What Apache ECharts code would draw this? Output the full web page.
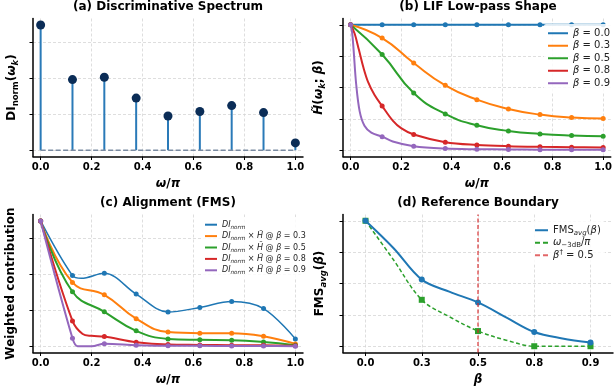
<!DOCTYPE html>
<html><head><meta charset="utf-8">
<script src="https://cdn.jsdelivr.net/npm/echarts@6/dist/echarts.min.js"></script>
<style>html,body{margin:0;padding:0;background:#fff}#c{width:615px;height:392px}</style>
</head><body><div id="c"></div>
<script>
const FONT = 'DejaVu Sans';
const C = ['#1f77b4', '#ff7f0e', '#2ca02c', '#d62728', '#9467bd'];
const GRIDC = '#d6d6d6';

// ---- shared frequency grid ----
const omega = [0, 0.125, 0.25, 0.375, 0.5, 0.625, 0.75, 0.875, 1.0];
const omegaTicks = [0, 0.2, 0.4, 0.6, 0.8, 1.0];
const diTicks = [0, 0.2, 0.4, 0.6];
const unitTicks = [0, 0.25, 0.5, 0.75, 1.0];

// ---- (a) discriminative spectrum ----
const diNorm = [0.699, 0.394, 0.407, 0.291, 0.191, 0.216, 0.249, 0.210, 0.041];

// ---- (b) LIF low-pass shape ----
const betaNames = ['0.0', '0.3', '0.5', '0.8', '0.9'];
const h00 = [1, 1, 1, 1, 1, 1, 1, 1, 1];
const h03 = [1, 0.894, 0.695, 0.517, 0.403, 0.329, 0.284, 0.260, 0.252];
const h05 = [1, 0.763, 0.456, 0.289, 0.199, 0.154, 0.130, 0.117, 0.111];
const h08 = [1, 0.352, 0.125, 0.064, 0.042, 0.032, 0.027, 0.024, 0.021];
const h09 = [1, 0.108, 0.032, 0.013, 0.008, 0.006, 0.004, 0.003, 0.003];
// readings of the drawn curves between the markers
const h08Between = [[0.016, 0.93], [0.033, 0.8], [0.05, 0.665], [0.07, 0.54], [0.095, 0.44], [0.167, 0.236], [0.2, 0.176]];
const h09Between = [[0.006, 0.94], [0.012, 0.8], [0.022, 0.53], [0.036, 0.31], [0.055, 0.195], [0.082, 0.14], [0.167, 0.07]];

// ---- (c) alignment (weighted contribution) ----
const w03 = [0.699, 0.356, 0.287, 0.154, 0.079, 0.073, 0.073, 0.056, 0.013];
const w05 = [0.699, 0.304, 0.192, 0.086, 0.041, 0.036, 0.034, 0.024, 0.006];
const w08 = [0.699, 0.141, 0.054, 0.022, 0.009, 0.0075, 0.006, 0.005, 0.002];
const w09 = [0.699, 0.044, 0.014, 0.006, 0.002, 0.002, 0.001, 0.001, 0.0];
const w00Between = [[0.16, 0.379]];
const w08Between = [[0.165, 0.068], [0.2, 0.058]];
const w09Between = [[0.145, 0.0], [0.2, 0.0]];

// ---- (d) reference boundary ----
const betaLabels = ['0.0', '0.3', '0.5', '0.8', '0.9'];
const betaIdx = [0, 1, 2, 3, 4];
const fmsAvg = [1.0, 0.531, 0.349, 0.113, 0.029];
const w3dB = [1.0, 0.370, 0.121, 0.0, 0.0];
const fmsBetween = [[0.5, 0.781], [1.5, 0.433], [2.5, 0.23], [3.5, 0.062]];
const w3dBBetween = [[0.5, 0.687], [1.5, 0.233], [2.5, 0.048]];
const betaRefIdx = 2; // β† = 0.5

function pts(xs, ys) { return xs.map((x, i) => [x, ys[i]]); }
function merge(xs, ys, extra) { return pts(xs, ys).concat(extra).sort((a, b) => a[0] - b[0]); }

const SM = 0.35;

const nameRich = {
  b: { fontFamily: FONT, fontWeight: 'bold', fontSize: 12, lineHeight: 16, color: '#000' },
  bi: { fontFamily: FONT, fontWeight: 'bold', fontStyle: 'italic', fontSize: 12, lineHeight: 16, color: '#000' },
  bs: { fontFamily: FONT, fontWeight: 'bold', fontSize: 8.5, lineHeight: 9, verticalAlign: 'bottom', color: '#000' },
  bis: { fontFamily: FONT, fontWeight: 'bold', fontStyle: 'italic', fontSize: 8.5, lineHeight: 9, verticalAlign: 'bottom', color: '#000' }
};

function xAxisCfg(gi, min, max, ticks, fmt, name) {
  return {
    type: 'value', gridIndex: gi, min, max,
    axisLine: { show: true, onZero: false, lineStyle: { color: '#000', width: 1.5 } },
    axisTick: { show: true, length: 3.5, lineStyle: { color: '#000', width: 1 }, customValues: ticks },
    axisLabel: { show: true, customValues: ticks, formatter: fmt, fontFamily: FONT, fontWeight: 'bold', fontSize: 10, color: '#000', margin: 6 },
    splitLine: { show: true, lineStyle: { color: GRIDC, type: [3, 2], width: 0.8 } },
    name, nameLocation: 'middle', nameGap: 19,
    nameTextStyle: { rich: nameRich }
  };
}
function yAxisCfg(gi, min, max, ticks, name, gap) {
  return {
    type: 'value', gridIndex: gi, min, max,
    axisLine: { show: true, onZero: false, lineStyle: { color: '#000', width: 1.5 } },
    axisTick: { show: true, length: 3.5, lineStyle: { color: '#000', width: 1 }, customValues: ticks },
    axisLabel: { show: false, customValues: ticks },
    splitLine: { show: true, lineStyle: { color: GRIDC, type: [3, 2], width: 0.8 } },
    name, nameLocation: 'middle', nameRotate: 90, nameGap: gap,
    nameTextStyle: { rich: nameRich }
  };
}
const fmt1 = v => v.toFixed(1);

const series = [];

// (a) stems
series.push({ type: 'bar', xAxisIndex: 0, yAxisIndex: 0, data: pts(omega, diNorm), barWidth: 2, itemStyle: { color: '#2a7ab8', opacity: 1 }, z: 2, silent: true });
series.push({ type: 'line', xAxisIndex: 0, yAxisIndex: 0, data: [[omega[0], 0], [omega[omega.length - 1], 0]], symbol: 'none', lineStyle: { color: '#7a8ba2', width: 1.5, type: [5, 2.5] }, z: 3 });
series.push({ type: 'scatter', xAxisIndex: 0, yAxisIndex: 0, data: pts(omega, diNorm), symbol: 'circle', symbolSize: 9, itemStyle: { color: '#0b2d57', opacity: 1 }, z: 4 });

// (b)
const hSets = [h00, h03, h05, h08, h09];
const hBetween = [[], [], [], h08Between, h09Between];
hSets.forEach((h, k) => {
  series.push({ type: 'line', name: 'b' + k, xAxisIndex: 1, yAxisIndex: 1, data: merge(omega, h, hBetween[k]), smooth: hBetween[k].length ? SM : 0.5, symbol: 'none', lineStyle: { color: C[k], width: 2 }, itemStyle: { color: C[k] }, z: 3 + k });
  series.push({ type: 'scatter', xAxisIndex: 1, yAxisIndex: 1, data: pts(omega, h), symbol: 'circle', symbolSize: 5, itemStyle: { color: C[k], opacity: 1 }, z: 3 + k });
});

// (c)
const wSets = [diNorm, w03, w05, w08, w09];
const wBetween = [w00Between, [], [], w08Between, w09Between];
wSets.forEach((w, k) => {
  series.push({ type: 'line', name: 'c' + k, xAxisIndex: 2, yAxisIndex: 2, data: merge(omega, w, wBetween[k]), smooth: wBetween[k].length ? SM : 0.45, symbol: 'none', lineStyle: { color: C[k], width: k === 0 ? 1.5 : 2 }, itemStyle: { color: C[k] }, z: 3 + k });
  series.push({ type: 'scatter', xAxisIndex: 2, yAxisIndex: 2, data: pts(omega, w), symbol: 'circle', symbolSize: 5, itemStyle: { color: C[k], opacity: 1 }, z: 3 + k });
});

// (d)
series.push({ type: 'line', name: 'd0', xAxisIndex: 3, yAxisIndex: 3, data: merge(betaIdx, fmsAvg, fmsBetween), smooth: SM, symbol: 'none', lineStyle: { color: C[0], width: 2 }, itemStyle: { color: C[0] }, z: 4 });
series.push({ type: 'scatter', xAxisIndex: 3, yAxisIndex: 3, data: pts(betaIdx, fmsAvg), symbol: 'circle', symbolSize: 6, itemStyle: { color: C[0], opacity: 1 }, z: 4 });
series.push({ type: 'line', name: 'd1', xAxisIndex: 3, yAxisIndex: 3, data: merge(betaIdx, w3dB, w3dBBetween), smooth: SM, symbol: 'none', lineStyle: { color: C[2], width: 1.5, type: [4, 2.5] }, itemStyle: { color: C[2] }, z: 3 });
series.push({ type: 'scatter', xAxisIndex: 3, yAxisIndex: 3, data: pts(betaIdx, w3dB), symbol: 'rect', symbolSize: 6, itemStyle: { color: C[2], opacity: 1 }, z: 3 });
series.push({ type: 'line', name: 'd2', xAxisIndex: 3, yAxisIndex: 3, data: [], symbol: 'none', itemStyle: { color: 'rgba(214,39,40,0.7)' }, lineStyle: { color: 'rgba(214,39,40,0.7)' }, z: 2,
  markLine: { silent: true, symbol: 'none', label: { show: false }, lineStyle: { color: 'rgba(214,39,40,0.75)', width: 1.5, type: [4, 2.5] }, data: [{ xAxis: betaRefIdx }] } });

const SOLID20 = 'path://M0 0H20V2H0Z';
const SOLID12 = 'path://M0 0H12V2H0Z';
const SOLID13 = 'path://M0 0H13V2H0Z';
const DASH13 = 'path://M0 0H5V2H0Z M8 0H13V2H8Z';

const legRichB = {
  i: { fontFamily: FONT, fontStyle: 'italic', fontSize: 10, lineHeight: 12.5, color: '#222' },
  n: { fontFamily: FONT, fontSize: 10, lineHeight: 12.5, color: '#222' }
};
const legRichC = {
  i: { fontFamily: FONT, fontStyle: 'italic', fontSize: 8, lineHeight: 11.4, color: '#222' },
  n: { fontFamily: FONT, fontSize: 8, lineHeight: 11.4, color: '#222' },
  s: { fontFamily: FONT, fontStyle: 'italic', fontSize: 5.6, lineHeight: 6.5, verticalAlign: 'bottom', color: '#222' }
};
const legRichD = {
  i: { fontFamily: FONT, fontStyle: 'italic', fontSize: 10, lineHeight: 12.5, color: '#222' },
  n: { fontFamily: FONT, fontSize: 10, lineHeight: 12.5, color: '#222' },
  s: { fontFamily: FONT, fontStyle: 'italic', fontSize: 7, lineHeight: 8, verticalAlign: 'bottom', color: '#222' },
  s2: { fontFamily: FONT, fontSize: 7, lineHeight: 8, verticalAlign: 'bottom', color: '#222' },
  sup: { fontFamily: FONT, fontSize: 7, lineHeight: 8, verticalAlign: 'top', color: '#222' }
};

const legendText = {
  b0: '{i|β}{n| = 0.0}', b1: '{i|β}{n| = 0.3}', b2: '{i|β}{n| = 0.5}', b3: '{i|β}{n| = 0.8}', b4: '{i|β}{n| = 0.9}',
  c0: '{i|DI}{s|norm}',
  c1: '{i|DI}{s|norm}{n| × }{i|H̃}{n| @ }{i|β}{n| = 0.3}',
  c2: '{i|DI}{s|norm}{n| × }{i|H̃}{n| @ }{i|β}{n| = 0.5}',
  c3: '{i|DI}{s|norm}{n| × }{i|H̃}{n| @ }{i|β}{n| = 0.8}',
  c4: '{i|DI}{s|norm}{n| × }{i|H̃}{n| @ }{i|β}{n| = 0.9}',
  d0: '{n|FMS}{s|avg}{n|(}{i|β}{n|)}',
  d1: '{i|ω}{s2|−3dB}{n|/}{i|π}',
  d2: '{i|β}{sup|†}{n| = 0.5}'
};
const legFmt = name => legendText[name];

const titleStyle = { fontFamily: FONT, fontWeight: 'bold', fontSize: 12, color: '#000' };

const option = {
  animation: false,
  backgroundColor: '#fff',
  textStyle: { fontFamily: FONT },
  title: [
    { text: '(a) Discriminative Spectrum', left: 168, top: 0.5, textAlign: 'center', padding: 0, textStyle: titleStyle },
    { text: '(b) LIF Low-pass Shape', left: 478, top: 0.5, textAlign: 'center', padding: 0, textStyle: titleStyle },
    { text: '(c) Alignment (FMS)', left: 168, top: 197, textAlign: 'center', padding: 0, textStyle: titleStyle },
    { text: '(d) Reference Boundary', left: 478, top: 197, textAlign: 'center', padding: 0, textStyle: titleStyle }
  ],
  grid: [
    { left: 33, top: 18.5, width: 270, height: 138 },
    { left: 343, top: 18.5, width: 270, height: 138 },
    { left: 33, top: 214.5, width: 270, height: 138 },
    { left: 343, top: 214.5, width: 270, height: 138 }
  ],
  xAxis: [
    xAxisCfg(0, -0.03, 1.03, omegaTicks, fmt1, '{bi|ω}{b|/}{bi|π}'),
    xAxisCfg(1, -0.03, 1.03, omegaTicks, fmt1, '{bi|ω}{b|/}{bi|π}'),
    xAxisCfg(2, -0.03, 1.03, omegaTicks, fmt1, '{bi|ω}{b|/}{bi|π}'),
    xAxisCfg(3, -0.4, 4.4, betaIdx, v => betaLabels[Math.round(v)], '{bi|β}')
  ],
  yAxis: [
    yAxisCfg(0, -0.035, 0.735, diTicks, '{b|DI}{bs|norm}{b|(}{bi|ω}{bis|k}{b|)}', 13),
    yAxisCfg(1, -0.05, 1.05, unitTicks, '{bi|H̃}{b|(}{bi|ω}{bis|k}{b|; }{bi|β}{b|)}', 16),
    yAxisCfg(2, -0.035, 0.735, diTicks, '{b|Weighted contribution}', 14),
    yAxisCfg(3, -0.05, 1.05, unitTicks, '{b|FMS}{bis|avg}{b|(}{bi|β}{b|)}', 15)
  ],
  legend: [
    { orient: 'vertical', left: 544, top: 24, padding: [3, 4, 3, 4], itemGap: 0, itemWidth: 20, itemHeight: 2,
      backgroundColor: 'rgba(255,255,255,0.85)', borderRadius: 2, selectedMode: false,
      data: ['b0', 'b1', 'b2', 'b3', 'b4'].map(n => ({ name: n, icon: SOLID20 })),
      formatter: legFmt, textStyle: { rich: legRichB, lineHeight: 12.5 } },
    { orient: 'vertical', left: 202, top: 217, padding: [2, 3, 2, 3], itemGap: 0, itemWidth: 12, itemHeight: 2,
      backgroundColor: 'rgba(255,255,255,0.85)', borderRadius: 2, selectedMode: false,
      data: ['c0', 'c1', 'c2', 'c3', 'c4'].map(n => ({ name: n, icon: SOLID12 })),
      formatter: legFmt, textStyle: { rich: legRichC, lineHeight: 11.4 } },
    { orient: 'vertical', left: 531, top: 221, padding: [3, 4, 3, 4], itemGap: 0, itemWidth: 13, itemHeight: 2,
      backgroundColor: 'rgba(255,255,255,0.85)', borderRadius: 2, selectedMode: false,
      data: [{ name: 'd0', icon: SOLID13 }, { name: 'd1', icon: DASH13 }, { name: 'd2', icon: DASH13 }],
      formatter: legFmt, textStyle: { rich: legRichD, lineHeight: 12.5 } }
  ],
  series
};

const chart = echarts.init(document.getElementById('c'), null, { renderer: 'canvas' });
chart.setOption(option);
</script>
</body></html>
